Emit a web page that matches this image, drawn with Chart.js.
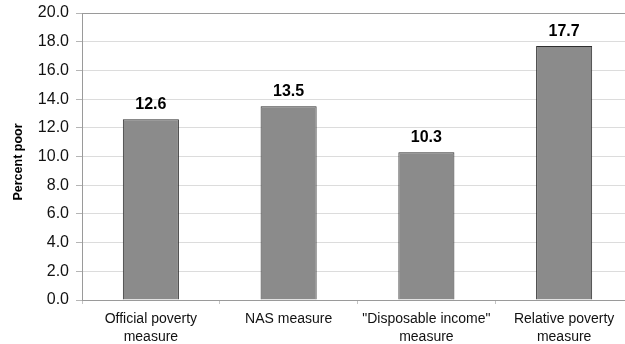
<!DOCTYPE html>
<html>
<head>
<meta charset="utf-8">
<script src="https://cdn.jsdelivr.net/npm/chart.js@4/dist/chart.umd.min.js"></script>
<style>
  html, body { margin: 0; padding: 0; background: #fff; overflow: hidden; }
  #wrap { width: 640px; height: 344px; }
</style>
</head>
<body>
<div id="wrap"><canvas id="chart"></canvas></div>
<script>
const categories = [
  ['Official poverty', 'measure'],
  ['NAS measure'],
  ['"Disposable income"', 'measure'],
  ['Relative poverty', 'measure']
];
const percentPoor = [12.6, 13.5, 10.3, 17.7];
const yTicks = [0, 2, 4, 6, 8, 10, 12, 14, 16, 18, 20];
const yTitle = 'Percent poor';

const FONT = '"Liberation Sans", Arial, Helvetica, sans-serif';

// value labels above each bar + y axis title
const extras = {
  id: 'extras',
  afterDatasetsDraw(chart) {
    const ctx = chart.ctx;
    const meta = chart.getDatasetMeta(0);
    ctx.save();
    ctx.font = 'bold 16px ' + FONT;
    ctx.fillStyle = '#000';
    ctx.textAlign = 'center';
    ctx.textBaseline = 'alphabetic';
    meta.data.forEach((bar, i) => {
      ctx.fillText(percentPoor[i].toFixed(1), bar.x, bar.y - 10);
    });
    ctx.restore();

    ctx.save();
    ctx.translate(22, 162);
    ctx.rotate(-Math.PI / 2);
    ctx.font = 'bold 12.5px ' + FONT;
    ctx.fillStyle = '#000';
    ctx.textAlign = 'center';
    ctx.textBaseline = 'alphabetic';
    ctx.fillText(yTitle, 0, 0);
    ctx.restore();
  }
};

new Chart(document.getElementById('chart'), {
  type: 'bar',
  data: {
    labels: categories,
    datasets: [{
      data: percentPoor,
      backgroundColor: '#8b8b8b',
      borderColor: '#2e2e2e',
      borderWidth: 1,
      barPercentage: 0.407,
      categoryPercentage: 1
    }]
  },
  options: {
    responsive: true,
    maintainAspectRatio: false,
    animation: false,
    layout: { padding: { top: 13, right: 7, left: 0, bottom: 0 } },
    plugins: {
      legend: { display: false },
      tooltip: { enabled: false }
    },
    scales: {
      x: {
        afterFit(scale) {
          scale.height = 44;
          scale.paddingLeft = 0;
          scale.paddingRight = 0;
        },
        border: { color: '#9a9a9a', width: 1 },
        grid: {
          offset: true,
          drawOnChartArea: false,
          drawTicks: true,
          tickLength: 4,
          color: '#c4c4c4'
        },
        ticks: {
          color: '#111',
          padding: 6,
          maxRotation: 0,
          font: { family: FONT, size: 14, lineHeight: 1.3 }
        }
      },
      y: {
        min: 0,
        max: 20,
        afterFit(scale) {
          scale.width = 82;
          scale.paddingTop = 0;
          scale.paddingBottom = 0;
        },
        afterBuildTicks(scale) { scale.ticks = yTicks.map(v => ({ value: v })); },
        border: { color: '#9a9a9a', width: 1 },
        grid: {
          color: ctx => ctx.tick && ctx.tick.value === 20 ? '#9a9a9a' : '#dcdcdc',
          tickColor: '#b5b5b5',
          tickLength: 6,
          lineWidth: 1
        },
        ticks: {
          color: '#111',
          padding: 7,
          font: { family: FONT, size: 16 },
          callback: v => Number(v).toFixed(1)
        }
      }
    }
  },
  plugins: [extras]
});
</script>
</body>
</html>
